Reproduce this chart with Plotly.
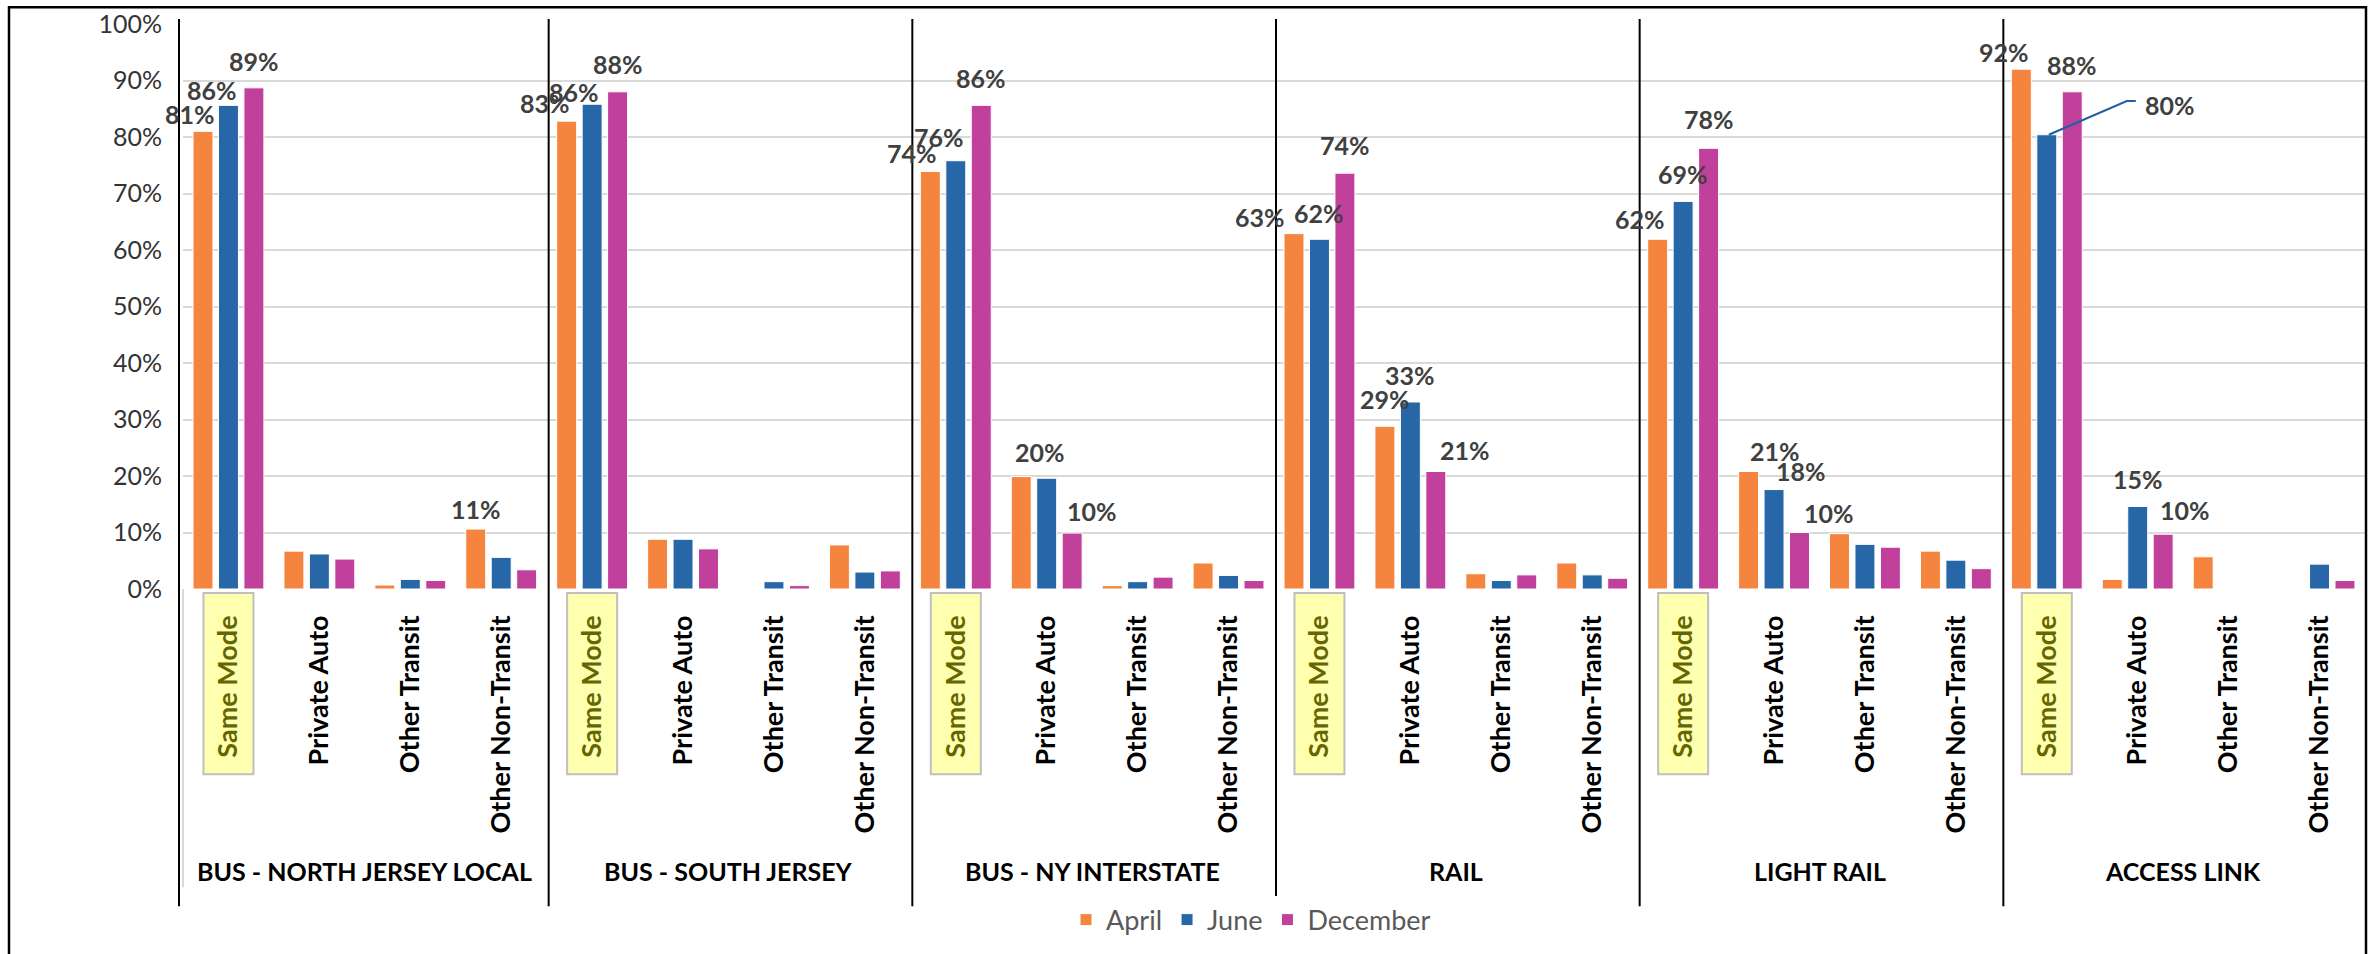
import plotly.graph_objects as go

# ---------------- data ----------------
groups = ["BUS - NORTH JERSEY LOCAL", "BUS - SOUTH JERSEY", "BUS - NY INTERSTATE",
          "RAIL", "LIGHT RAIL", "ACCESS LINK"]
categories = ["Same Mode", "Private Auto", "Other Transit", "Other Non-Transit"]
series_names = ["April", "June", "December"]

april = [81.0, 6.7, 0.7, 10.6,
         82.8, 8.8, 0.0, 7.8,
         73.9, 19.9, 0.6, 4.6,
         62.9, 28.8, 2.7, 4.6,
         61.9, 20.8, 9.8, 6.7,
         92.0, 1.7, 5.7, 0.0]
june = [85.6, 6.2, 1.7, 5.6,
        85.8, 8.8, 1.3, 3.0,
        75.8, 19.6, 1.3, 2.4,
        61.9, 33.1, 1.5, 2.5,
        68.6, 17.6, 7.9, 5.1,
        80.4, 14.6, 0.0, 4.4]
december = [88.7, 5.3, 1.5, 3.4,
            88.0, 7.1, 0.6, 3.2,
            85.6, 9.9, 2.1, 1.5,
            73.6, 20.8, 2.5, 1.9,
            78.0, 10.0, 7.4, 3.6,
            88.0, 9.7, 0.0, 1.5]
series_values = [april, june, december]
colors = ["#F5843F", "#2767A7", "#C0409C"]

# labelled bars: (series index, bar index, x-shift px, lift px above bar top)
labelled = [
    (0, 0, -13, 17), (1, 0, -16, 15), (2, 0, 0, 27), (0, 3, 0, 20),
    (0, 4, -22, 18), (1, 4, -18, 12), (2, 4, 0, 28),
    (0, 8, -18, 18), (1, 8, -17, 24), (2, 8, 0, 27), (0, 9, 19, 25), (2, 9, 20, 22),
    (0, 12, -34, 17), (1, 12, 0, 26), (2, 12, 0, 28), (0, 13, 0, 27), (1, 13, 0, 27), (2, 13, 29, 21),
    (0, 16, -18, 20), (1, 16, 0, 27), (2, 16, 0, 29), (0, 17, 26, 20), (1, 17, 27, 19), (2, 17, 29, 20),
    (0, 20, -17, 17), (1, 20, 123, 30), (2, 20, 0, 27), (1, 21, 0, 28), (2, 21, 22, 24),
]
leader_label = (1, 20)

# ---------------- geometry ----------------
W, H = 2374, 954
PL, PR, PT, PB = 183, 2365, 24, 594
plot_w, plot_h = PR - PL, PB - PT
n_cat = len(groups) * len(categories)
px_per_cat = plot_w / n_cat
px_per_pct = plot_h / 100.0
BARGAP = 0.16
BARGROUPGAP = 0.216
slot = (1 - BARGAP) / 3


def pxx(px):
    return (px - PL) / plot_w


def pxy(py):
    return (PB - py) / plot_h


def data_x_paper(x):
    return (x + 0.5) / n_cat


x_idx = list(range(n_cat))
ticktext = []
for g in groups:
    for c in categories:
        if c == "Same Mode":
            ticktext.append("<span style='color:#666600'>" + c + "</span>")
        else:
            ticktext.append(c)

fig = go.Figure()
for name, vals, col in zip(series_names, series_values, colors):
    fig.add_trace(go.Bar(x=x_idx, y=vals, name=name, marker_color=col,
                         marker_line_color="white", marker_line_width=1,
                         hoverinfo="skip"))

FONT = "Lato"
annotations = []
for s, i, dx, dy in labelled:
    v = series_values[s][i]
    annotations.append(dict(
        x=i + (s - 1) * slot, y=v, xref="x", yref="y",
        text=f"{v:.0f}%", showarrow=False, xshift=dx, yshift=dy,
        xanchor="center", yanchor="middle",
        font=dict(family=FONT, size=25, color="#404040", weight=700)))

# leader line for the labelled June ACCESS LINK bar
ls, li = leader_label
lv = series_values[ls][li]
lx = li + (ls - 1) * slot
fig.add_trace(go.Scatter(
    x=[lx + 2 / px_per_cat, lx + 80 / px_per_cat, lx + 89 / px_per_cat],
    y=[lv, lv + 34 / px_per_pct, lv + 34 / px_per_pct],
    mode="lines", line=dict(color="#1F5FA5", width=2),
    showlegend=False, hoverinfo="skip"))

# group labels
for gi, g in enumerate(groups):
    annotations.append(dict(
        x=gi * 4 + 1.5, y=pxy(878), xref="x", yref="paper", text=g,
        showarrow=False, xanchor="center", yanchor="middle",
        font=dict(family=FONT, size=25, color="black", weight=700)))

shapes = []
# group dividers at the category boundaries between groups
for gi in range(len(groups)):
    xb = data_x_paper(gi * 4 - 0.5)
    if gi == 0:
        xb -= 4 / plot_w
    else:
        xb += 2 / plot_w
    shapes.append(dict(type="line", xref="paper", yref="paper",
                       x0=xb, x1=xb, y0=pxy(914), y1=pxy(19),
                       line=dict(color="black", width=2)))
# highlight boxes behind "Same Mode"
for gi in range(len(groups)):
    xc = data_x_paper(gi * 4)
    shapes.append(dict(type="rect", xref="paper", yref="paper", layer="below",
                       x0=xc - 25 / plot_w, x1=xc + 25 / plot_w,
                       y0=pxy(781), y1=pxy(598),
                       fillcolor="#FFFFB0", line=dict(color="#BFBFBF", width=2)))
# light axis line at left of category area
shapes.append(dict(type="line", xref="paper", yref="paper", x0=0, x1=0,
                   y0=pxy(895), y1=0, line=dict(color="#D9D9D9", width=2)))
# outer frame
shapes.append(dict(type="rect", xref="paper", yref="paper",
                   x0=pxx(9), x1=pxx(2366), y0=pxy(970), y1=pxy(7),
                   line=dict(color="black", width=2.5), fillcolor="rgba(0,0,0,0)"))

fig.update_layout(
    width=W, height=H,
    margin=dict(l=PL, r=W - PR, t=PT, b=H - PB, pad=0),
    paper_bgcolor="white", plot_bgcolor="white",
    barmode="group", bargap=BARGAP, bargroupgap=BARGROUPGAP,
    showlegend=True,
    legend=dict(orientation="h", x=pxx(1251), y=pxy(928),
                xanchor="center", yanchor="middle",
                font=dict(family=FONT, size=27, color="#595959"),
                itemclick=False, itemdoubleclick=False),
    annotations=annotations, shapes=shapes,
    font=dict(family=FONT),
)
fig.update_xaxes(range=[-0.5, n_cat - 0.5], tickmode="array", tickvals=x_idx,
                 ticktext=ticktext, tickangle=-90, showgrid=False, zeroline=False,
                 showline=False, ticks="", ticklabelstandoff=20,
                 tickfont=dict(family=FONT, size=27, color="black", weight=700))
fig.update_yaxes(range=[0, 100], dtick=10, ticksuffix="%", showgrid=True,
                 gridcolor="#D9D9D9", gridwidth=2, zeroline=False, showline=False,
                 ticks="", ticklabelstandoff=20,
                 tickfont=dict(family=FONT, size=25, color="#333333"))

fig.write_html("out.html")
